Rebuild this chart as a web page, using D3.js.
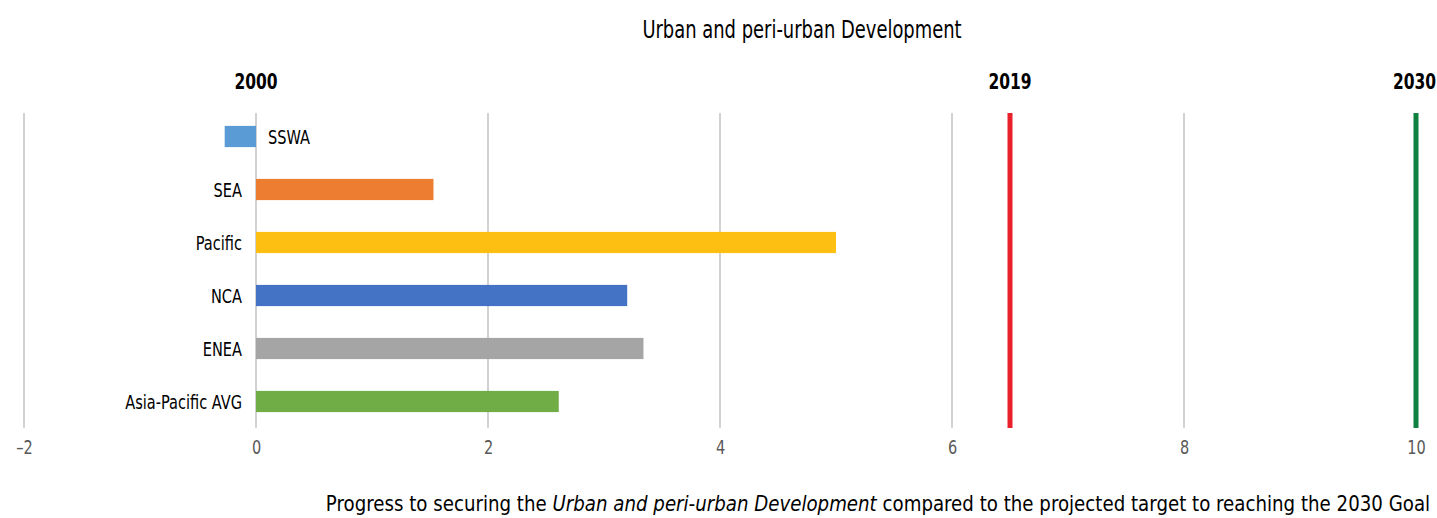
<!DOCTYPE html>
<html>
<head>
<meta charset="utf-8">
<script src="https://cdn.jsdelivr.net/npm/d3@7"></script>
<style>
  html, body { margin: 0; padding: 0; background: #fff; }
  svg text { font-family: "Liberation Sans Narrow", "DejaVu Sans Condensed", "Roboto", sans-serif; }
</style>
</head>
<body>
<svg id="chart" width="1437" height="518"></svg>
<script>
// ─── Data ───────────────────────────────────────────────────────────────
const regions = ["SSWA", "SEA", "Pacific", "NCA", "ENEA", "Asia-Pacific AVG"];
const progress = [-0.27, 1.53, 5.0, 3.2, 3.34, 2.61];
const barColors = ["#5b9bd5", "#ed7d31", "#fcbf12", "#4472c4", "#a5a5a5", "#70ad47"];
const xTicks = [-2, 0, 2, 4, 6, 8, 10];
const markerYears = ["2000", "2019", "2030"];
const markerValues = [0, 6.5, 10];

const svg = d3.select("#chart");

const x = d3.scaleLinear().domain([-2, 10]).range([24, 1416]);
const y = d3.scaleBand().domain(regions).range([110, 428]).paddingInner(0.6).paddingOuter(0.3);

// squeeze the fallback font horizontally around its anchor point,
// so it looks like the narrow font in the original
function condense(sel, k) {
  sel.each(function () {
    const ax = +this.getAttribute("x") || 0;
    d3.select(this).attr("transform", `translate(${ax},0) scale(${k},1) translate(${-ax},0)`);
  });
}

// title
svg.append("text")
  .attr("x", 802).attr("y", 38)
  .attr("text-anchor", "middle")
  .attr("font-size", 24)
  .attr("fill", "#000")
  .text("Urban and peri-urban Development")
  .call(condense, 0.83);

// gridlines
svg.append("g")
  .selectAll("line")
  .data(xTicks.filter(d => d < 10))
  .join("line")
  .attr("x1", d => x(d)).attr("x2", d => x(d))
  .attr("y1", 113).attr("y2", 428)
  .attr("stroke", "#c3c3c3")
  .attr("stroke-width", 1.5);

// tick labels
const axis = d3.axisBottom(x).tickValues(xTicks).tickSize(0).tickPadding(0)
  .tickFormat(d => d < 0 ? "\u2013" + Math.abs(d) : d);
const axisG = svg.append("g").attr("transform", "translate(0,437)").call(axis);
axisG.select(".domain").remove();
axisG.selectAll("text")
  .attr("font-size", 19)
  .attr("fill", "#595959")
  .attr("dy", "0.9em")
  .call(condense, 0.85);

// bars
svg.append("g")
  .selectAll("rect")
  .data(regions)
  .join("rect")
  .attr("x", (d, i) => x(Math.min(0, progress[i])))
  .attr("width", (d, i) => Math.abs(x(progress[i]) - x(0)))
  .attr("y", d => y(d))
  .attr("height", y.bandwidth())
  .attr("fill", (d, i) => barColors[i]);

// category labels
svg.append("g")
  .selectAll("text")
  .data(regions)
  .join("text")
  .attr("x", (d, i) => progress[i] < 0 ? x(0) + 12 : x(0) - 14)
  .attr("y", d => y(d) + y.bandwidth() / 2)
  .attr("dy", "0.36em")
  .attr("text-anchor", (d, i) => progress[i] < 0 ? "start" : "end")
  .attr("font-size", 20)
  .attr("fill", "#000")
  .text(d => d)
  .call(condense, 0.81);

// target lines (2019 & 2030)
const lineColors = ["#e8202a", "#0e8040"];
svg.append("g")
  .selectAll("line")
  .data(markerValues.slice(1))
  .join("line")
  .attr("x1", d => x(d)).attr("x2", d => x(d))
  .attr("y1", 113).attr("y2", 428)
  .attr("stroke", (d, i) => lineColors[i])
  .attr("stroke-width", 5);

// year labels (last one kept inside the right edge)
svg.append("g")
  .selectAll("text")
  .data(markerYears)
  .join("text")
  .attr("x", (d, i) => i === markerYears.length - 1 ? 1436 : x(markerValues[i]))
  .attr("y", 89)
  .attr("text-anchor", (d, i) => i === markerYears.length - 1 ? "end" : "middle")
  .attr("font-size", 21)
  .attr("font-weight", "bold")
  .attr("fill", "#000")
  .text(d => d)
  .call(condense, 0.82);

// footer caption
const foot = svg.append("text")
  .attr("x", 878).attr("y", 511)
  .attr("text-anchor", "middle")
  .attr("font-size", 22)
  .attr("fill", "#000");
foot.append("tspan").text("Progress to securing the ");
foot.append("tspan").attr("font-style", "italic").text("Urban and peri-urban Development");
foot.append("tspan").text(" compared to the projected target to reaching the 2030 Goal");
foot.call(condense, 0.92);
</script>
</body>
</html>
